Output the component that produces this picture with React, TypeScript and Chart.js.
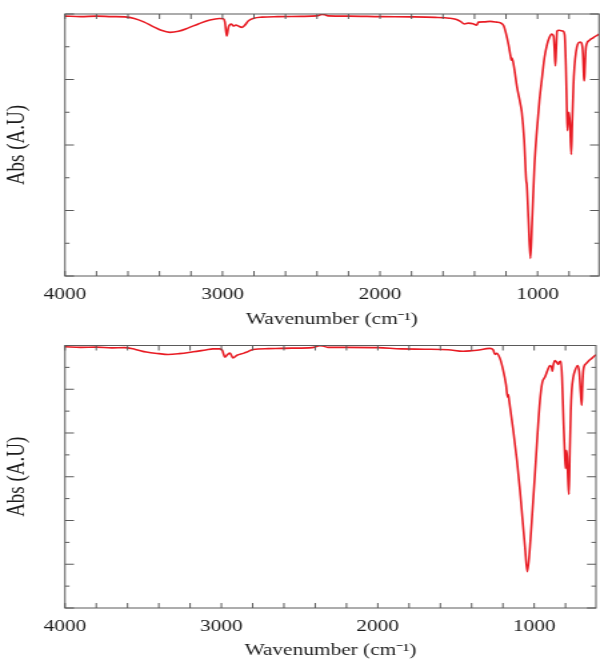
import React, { useEffect, useRef } from "react";
import { Chart, registerables } from "chart.js";

Chart.register(...registerables);

// ---- data (wavenumber cm-1, relative signal %) ----
const topSpectrum: [number, number][] = [
  [4000, 99.2], [3900, 99.0], [3800, 99.2], [3700, 99.0], [3620, 98.9], [3560, 98.3],
  [3500, 97.0], [3440, 95.2], [3390, 93.8], [3334, 93.0], [3280, 93.4], [3220, 94.6],
  [3150, 96.3], [3080, 97.7], [3020, 98.3], [2995, 98.2], [2985, 97.0], [2973, 91.6],
  [2962, 95.0], [2945, 96.2], [2930, 95.4], [2915, 95.8], [2895, 95.3], [2878, 94.9],
  [2860, 95.6], [2835, 97.4], [2800, 98.4], [2750, 98.8], [2650, 99.0], [2500, 99.1],
  [2400, 99.3], [2370, 99.8], [2350, 99.7], [2330, 99.3], [2200, 99.2], [2000, 99.0],
  [1800, 98.9], [1650, 98.7], [1560, 98.4], [1520, 98.0], [1490, 97.2], [1464, 96.2],
  [1440, 96.5], [1410, 96.3], [1387, 95.7], [1375, 96.9], [1340, 97.0], [1300, 97.2],
  [1260, 96.9], [1235, 96.6], [1215, 95.5], [1200, 92.5], [1185, 88.5], [1170, 83.5],
  [1166, 82.4], [1162, 83.2], [1150, 80.0], [1130, 72.0], [1110, 66.0], [1100, 62.5],
  [1085, 52.0], [1072, 36.5], [1068, 34.8], [1058, 22.0], [1045, 6.7], [1035, 20.0],
  [1020, 41.6], [1005, 55.0], [988, 66.9], [970, 76.5], [956, 83.4], [940, 88.2],
  [925, 91.0], [910, 92.3], [898, 91.5], [892, 86.0], [887, 80.2], [882, 86.0],
  [876, 93.5], [865, 93.8], [840, 93.5], [828, 92.0], [820, 80.0], [814, 64.0],
  [810, 55.5], [805, 61.0], [800, 62.5], [794, 58.0], [786, 46.4], [780, 58.0],
  [772, 73.0], [766, 79.6], [756, 85.5], [745, 88.5], [730, 89.3], [720, 88.8],
  [712, 85.0], [706, 76.0], [703, 74.5], [699, 80.0], [694, 86.5], [688, 88.6],
  [670, 90.0], [650, 90.8], [630, 91.6], [610, 92.3],
];

const bottomSpectrum: [number, number][] = [
  [4000, 99.5], [3900, 99.3], [3800, 99.4], [3700, 99.1], [3620, 99.2], [3550, 98.5],
  [3480, 97.5], [3400, 96.9], [3341, 96.6], [3270, 96.9], [3180, 97.6], [3100, 98.3],
  [3054, 98.7], [3010, 98.7], [2995, 98.2], [2977, 95.6], [2960, 96.6], [2945, 97.1],
  [2926, 95.3], [2900, 96.3], [2860, 97.0], [2836, 97.5], [2798, 98.5], [2700, 98.8],
  [2550, 99.0], [2420, 99.2], [2370, 99.9], [2350, 99.8], [2320, 99.3], [2200, 99.3],
  [2000, 99.2], [1850, 98.7], [1700, 98.6], [1550, 98.4], [1455, 97.8], [1400, 98.0],
  [1366, 98.2], [1283, 98.9], [1262, 98.3], [1251, 96.6], [1240, 97.0], [1219, 95.1],
  [1200, 91.0], [1180, 85.0], [1170, 80.3], [1166, 81.3], [1160, 79.0], [1134, 67.7],
  [1110, 56.0], [1091, 44.9], [1075, 34.0], [1059, 23.3], [1044, 13.8], [1027, 23.3],
  [1010, 38.0], [995, 51.2], [978, 67.0], [963, 79.1], [948, 86.0], [931, 88.0],
  [915, 90.5], [899, 92.4], [888, 91.5], [884, 90.2], [878, 92.5], [867, 94.3],
  [856, 93.6], [846, 92.8], [838, 93.8], [829, 94.0], [822, 88.0], [812, 70.0],
  [804, 58.0], [799, 53.1], [794, 60.1], [790, 58.0], [783, 48.0], [778, 43.3],
  [772, 60.0], [766, 75.0], [760, 82.9], [750, 88.0], [739, 90.5], [722, 92.4],
  [712, 90.0], [703, 82.0], [696, 77.2], [692, 84.0], [686, 90.5], [670, 93.0],
  [654, 94.0], [630, 95.2], [611, 96.2], [605, 96.5],
];

const xLabelTicks = [4000, 3000, 2000, 1000];
const xMinorTicks = [4000, 3800, 3600, 3400, 3200, 3000, 2800, 2600, 2400, 2200, 2000,
  1800, 1600, 1400, 1200, 1000, 800];
const topYMajor = [0, 25, 50, 75, 100];
const topYMinor = [12.5, 37.5, 62.5, 87.5];
const bottomYMajor = [0, 16.667, 33.333, 50, 66.667, 83.333, 100];
const bottomYMinor = [8.333, 25, 41.667, 58.333, 75, 91.667];

const xTitle = "Wavenumber (cm\u207B\u00B9)";
const yTitle = "Abs (A.U)";

// ---- styling ----
const FONT = "'Liberation Serif', 'Times New Roman', Times, serif";
const LINE_COLOR = "rgb(232, 28, 36)";
const TEXT_COLOR = "#1c1c1c";
const FRAME_COLOR = "#5a5a5a";
const LOGICAL_W = 450; // rendered width, stretched to 600 via CSS
const DISPLAY_W = 600;
const CANVAS_H = 331;

function makeFramePlugin(yMajor: number[], yMinor: number[]) {
  return {
    id: "frameTicks",
    afterDatasetsDraw(chart: any) {
      const { ctx, chartArea: a, scales } = chart;
      const xs = scales.x;
      const ys = scales.y;
      ctx.save();
      ctx.strokeStyle = FRAME_COLOR;
      ctx.lineWidth = 1;
      ctx.strokeRect(a.left, a.top, a.right - a.left, a.bottom - a.top);
      ctx.beginPath();
      for (const v of xMinorTicks) {
        const px = xs.getPixelForValue(v);
        if (px < a.left - 0.5 || px > a.right + 0.5) continue;
        ctx.moveTo(px, a.bottom);
        ctx.lineTo(px, a.bottom - 5);
        ctx.moveTo(px, a.top);
        ctx.lineTo(px, a.top + 5);
      }
      const yTick = (v: number, len: number) => {
        const py = ys.getPixelForValue(v);
        ctx.moveTo(a.left, py);
        ctx.lineTo(a.left + len, py);
        ctx.moveTo(a.right, py);
        ctx.lineTo(a.right - len, py);
      };
      yMajor.forEach((v) => yTick(v, 6.75));
      yMinor.forEach((v) => yTick(v, 3.4));
      ctx.stroke();
      ctx.restore();
    },
  };
}

type PanelProps = {
  spectrum: [number, number][];
  xMin: number;
  yMajor: number[];
  yMinor: number[];
  padTop: number;
  padRight: number;
  areaBottom: number;
};

function SpectrumPanel(props: PanelProps) {
  const ref = useRef<HTMLCanvasElement>(null);
  useEffect(() => {
    const { spectrum, xMin, yMajor, yMinor, padTop, padRight, areaBottom } = props;
    const chart = new Chart(ref.current as HTMLCanvasElement, {
      type: "line",
      data: {
        datasets: [
          {
            data: spectrum.map(([x, y]) => ({ x, y })),
            borderColor: LINE_COLOR,
            borderWidth: 1.6,
            pointRadius: 0,
            fill: false,
            cubicInterpolationMode: "monotone",
          } as any,
        ],
      },
      options: {
        responsive: false,
        animation: false,
        devicePixelRatio: 1,
        events: [],
        layout: { padding: { top: padTop, right: padRight, left: 0, bottom: 0 } },
        plugins: { legend: { display: false }, tooltip: { enabled: false } },
        scales: {
          x: {
            type: "linear",
            reverse: true,
            min: xMin,
            max: 4000,
            grid: { display: false, drawTicks: false },
            border: { display: false },
            afterBuildTicks: (s: any) => {
              s.ticks = xLabelTicks.map((v) => ({ value: v }));
            },
            afterFit: (s: any) => {
              s.height = CANVAS_H - areaBottom;
            },
            ticks: {
              padding: 9,
              color: TEXT_COLOR,
              autoSkip: false,
              maxRotation: 0,
              font: { family: FONT, size: 16 },
              callback: (v: any) => String(v),
            },
            title: {
              display: true,
              text: xTitle,
              color: TEXT_COLOR,
              font: { family: FONT, size: 16 },
              padding: { top: 0, bottom: 2 },
            },
          },
          y: {
            type: "linear",
            min: 0,
            max: 100,
            grid: { display: false, drawTicks: false },
            border: { display: false },
            ticks: { display: false },
            afterFit: (s: any) => {
              s.width = 48.75;
            },
            title: {
              display: true,
              text: yTitle,
              color: TEXT_COLOR,
              font: { family: FONT, size: 19 },
              padding: { top: 2, bottom: 0 },
            },
          },
        },
      } as any,
      plugins: [makeFramePlugin(yMajor, yMinor)],
    });
    return () => chart.destroy();
  }, []);
  return (
    <canvas
      ref={ref}
      width={LOGICAL_W}
      height={CANVAS_H}
      style={{ width: DISPLAY_W + "px", height: CANVAS_H + "px", display: "block" }}
    />
  );
}

export default function App() {
  return (
    <div style={{ position: "absolute", left: 0, top: 0, width: DISPLAY_W, height: 662, background: "#fff" }}>
      <SpectrumPanel
        spectrum={topSpectrum}
        xMin={610}
        yMajor={topYMajor}
        yMinor={topYMinor}
        padTop={14}
        padRight={LOGICAL_W - 599 * (LOGICAL_W / DISPLAY_W)}
        areaBottom={276}
      />
      <SpectrumPanel
        spectrum={bottomSpectrum}
        xMin={605}
        yMajor={bottomYMajor}
        yMinor={bottomYMinor}
        padTop={14.5}
        padRight={LOGICAL_W - 596 * (LOGICAL_W / DISPLAY_W)}
        areaBottom={277}
      />
    </div>
  );
}
